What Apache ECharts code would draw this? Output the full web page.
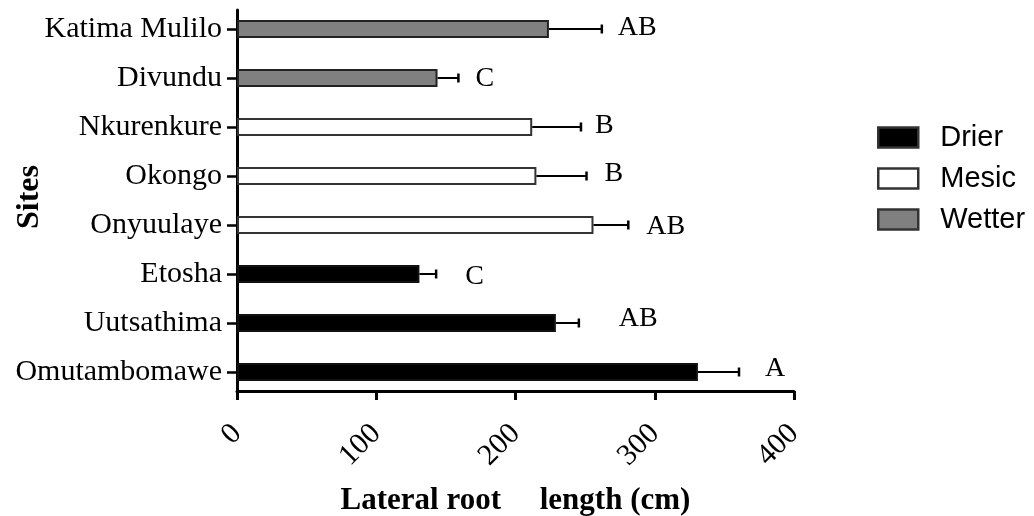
<!DOCTYPE html>
<html>
<head>
<meta charset="utf-8">
<script src="https://cdn.jsdelivr.net/npm/echarts@6/dist/echarts.min.js"></script>
<style>
  html, body { margin: 0; padding: 0; background: #fff; }
  #chart { width: 1034px; height: 516px; }
</style>
</head>
<body>
<div id="chart"></div>
<script>
// Sites, listed from the bottom of the axis to the top
const sites = ['Omutambomawe', 'Uutsathima', 'Etosha', 'Onyuulaye', 'Okongo', 'Nkurenkure', 'Divundu', 'Katima Mulilo'];
// Rainfall group of each site
const groups = ['Drier', 'Drier', 'Drier', 'Mesic', 'Mesic', 'Mesic', 'Wetter', 'Wetter'];
// Mean lateral root length (cm) and its error (cm)
const means = [331, 229, 131, 256, 215, 212, 144, 224];
const errors = [29.5, 16.5, 12, 25, 36, 35, 15, 38];
// Significance letters
const letters = ['A', 'AB', 'C', 'AB', 'B', 'B', 'C', 'AB'];
// Group names in legend order
const groupNames = ['Drier', 'Mesic', 'Wetter'];
// Value axis ticks
const xTicks = [0, 100, 200, 300, 400];

// Letter placement: pixel nudge from the end of each error bar [dx, dy]
const letterNudge = [[26, -3], [40, -4], [29, 3], [18, 2], [18, -2], [14, -1], [17, 1], [16, -1]];

const groupStyle = {
  Drier:  { color: '#000000', borderColor: '#111111' },
  Mesic:  { color: '#ffffff', borderColor: '#333333' },
  Wetter: { color: '#808080', borderColor: '#222222' }
};

const serif = '"Liberation Serif", "Times New Roman", serif';
const sans = '"Liberation Sans", Arial, sans-serif';

const barSeries = groupNames.map(g => ({
  name: g,
  type: 'bar',
  xAxisIndex: 0,
  yAxisIndex: 0,
  barWidth: 18,
  barGap: '-100%',
  itemStyle: {
    color: groupStyle[g].color,
    borderColor: groupStyle[g].borderColor,
    borderWidth: 2
  },
  data: means.map((m, i) => groups[i] === g ? m : '-'),
  z: 2
}));

const errorSeries = {
  type: 'custom',
  xAxisIndex: 0,
  yAxisIndex: 0,
  z: 3,
  silent: true,
  data: means.map((m, i) => [m, i, errors[i]]),
  renderItem: function (params, api) {
    const v = api.value(0);
    const i = api.value(1);
    const e = api.value(2);
    const p0 = api.coord([v, i]);
    const p1 = api.coord([v + e, i]);
    const idx = params.dataIndex;
    const nudge = letterNudge[idx];
    return {
      type: 'group',
      children: [
        {
          type: 'line',
          shape: { x1: p0[0], y1: p0[1], x2: p1[0], y2: p1[1] },
          style: { stroke: '#000', lineWidth: 2 }
        },
        {
          type: 'line',
          shape: { x1: p1[0], y1: p1[1] - 4.5, x2: p1[0], y2: p1[1] + 4.5 },
          style: { stroke: '#000', lineWidth: 2.5 }
        },
        {
          type: 'text',
          style: {
            text: letters[idx],
            x: p1[0] + nudge[0],
            y: p1[1] + nudge[1],
            fill: '#000',
            font: '28px ' + serif,
            align: 'left',
            verticalAlign: 'middle'
          }
        }
      ]
    };
  }
};

const chart = echarts.init(document.getElementById('chart'), null, { renderer: 'canvas' });

chart.setOption({
  backgroundColor: '#ffffff',
  animation: false,
  legend: {
    orient: 'vertical',
    left: 877,
    top: 123,
    padding: 0,
    itemWidth: 40,
    itemHeight: 20,
    itemGap: 12,
    icon: 'rect',
    data: groupNames,
    itemStyle: { borderWidth: 2.5, borderColor: '#333' },
    textStyle: {
      fontFamily: sans,
      fontSize: 29,
      color: '#000',
      padding: [0, 0, 0, 17],
      lineHeight: 28
    }
  },
  grid: [
    // bars and site labels
    { left: 237, width: 557, top: 4.5, height: 392, outerBoundsMode: 'none', containLabel: false },
    // axis frame
    { left: 237, width: 557, top: 10, height: 381, outerBoundsMode: 'none', containLabel: false }
  ],
  xAxis: [
    { type: 'value', gridIndex: 0, min: 0, max: 400, show: false },
    {
      type: 'value',
      gridIndex: 1,
      min: 0,
      max: 400,
      interval: 100,
      axisLine: { show: true, lineStyle: { color: '#000', width: 3 } },
      axisTick: { show: true, length: 9, lineStyle: { color: '#000', width: 3 } },
      splitLine: { show: false },
      axisLabel: {
        rotate: 45,
        margin: 38,
        fontFamily: serif,
        fontSize: 30,
        color: '#000',
        formatter: v => (xTicks.indexOf(v) >= 0 ? String(v) : '')
      },
      name: 'Lateral root     length (cm)',
      nameLocation: 'middle',
      nameGap: 94,
      nameMoveOverlap: false,
      nameTextStyle: {
        fontFamily: serif,
        fontSize: 31,
        fontWeight: 'bold',
        color: '#000'
      }
    }
  ],
  yAxis: [
    {
      type: 'category',
      gridIndex: 0,
      data: sites,
      axisLine: { show: false },
      axisTick: { show: true, alignWithLabel: true, length: 10, lineStyle: { color: '#000', width: 2.5 } },
      axisLabel: { margin: 15, fontFamily: serif, fontSize: 30, color: '#000' },
      splitLine: { show: false },
      name: 'Sites',
      nameLocation: 'middle',
      nameRotate: 90,
      nameGap: 191,
      nameMoveOverlap: false,
      nameTextStyle: {
        fontFamily: serif,
        fontSize: 32,
        fontWeight: 'bold',
        color: '#000',
        padding: [0, 0, 0, 7]
      }
    },
    {
      type: 'value',
      gridIndex: 1,
      min: 0,
      max: 1,
      axisLine: { show: true, lineStyle: { color: '#000', width: 3 } },
      axisTick: { show: false },
      axisLabel: { show: false },
      splitLine: { show: false }
    }
  ],
  series: barSeries.concat([errorSeries])
});
</script>
</body>
</html>
